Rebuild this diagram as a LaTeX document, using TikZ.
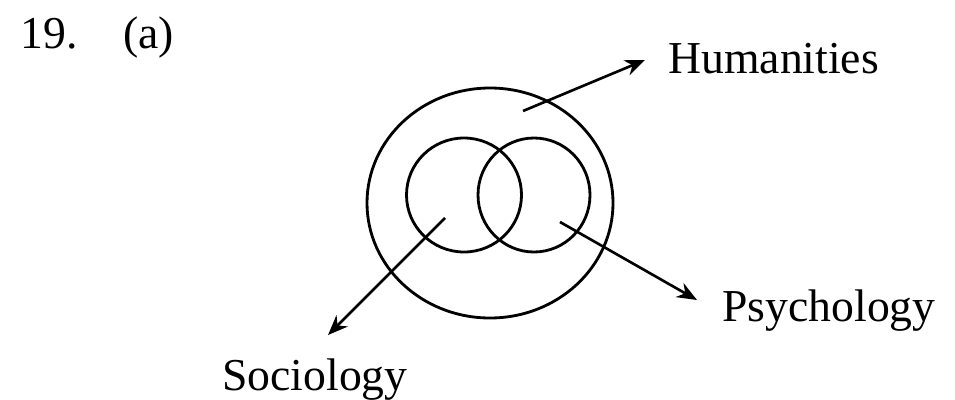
\documentclass[tikz,border=0pt]{standalone}
\usepackage{fontspec}
\setmainfont{Liberation Serif}
\usepackage{tikz}
\usetikzlibrary{arrows.meta, shapes.geometric}

\begin{document}
\begin{tikzpicture}[
    x=0.02cm, y=-0.02cm,
    ring/.style={draw, ellipse, line width=1.6pt, inner sep=0pt},
    lbl/.style={anchor=base west, inner sep=0pt, font=\fontsize{26}{30}\selectfont},
    arr/.style={-{Stealth[length=4mm, width=3.2mm]}, line width=1.5pt}]
  \useasboundingbox (0,0) rectangle (955,399);

  % heading
  \node[lbl] (num) at (20,48) {19.};
  \node[lbl] (part) at (123,48) {(a)};

  % circles
  \node[ring, minimum width=246*0.02cm, minimum height=230*0.02cm] (hum) at (490,203) {};
  \node[ring, minimum width=115*0.02cm, minimum height=114*0.02cm] (soc) at (464,195) {};
  \node[ring, minimum width=112*0.02cm, minimum height=114*0.02cm] (psy) at (534,195) {};

  % labels
  \node[lbl] (humtxt) at (668,73) {Humanities};
  \node[lbl] (psytxt) at (722,321) {Psychology};
  \node[lbl] (soctxt) at (222,390) {Sociology};

  \coordinate (humA) at (523,111);
  \coordinate (humB) at (645,60);
  \coordinate (psyA) at (560,222);
  \coordinate (psyB) at (697,300);
  \coordinate (socA) at (445,218);
  \coordinate (socB) at (328,335);

  \draw[arr] (humA) -- (humB);
  \draw[arr] (psyA) -- (psyB);
  \draw[arr] (socA) -- (socB);
\end{tikzpicture}
\end{document}
